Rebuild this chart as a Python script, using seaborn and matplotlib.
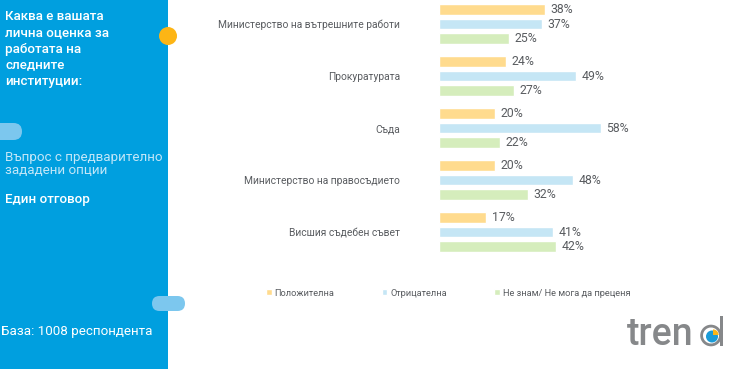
import matplotlib
matplotlib.use('Agg')
import matplotlib.pyplot as plt
import seaborn as sns
import pandas as pd
from matplotlib.patches import Rectangle, Circle, FancyBboxPatch, Wedge

# Data
institutions = ["Министерство на вътрешните работи", "Прокуратурата", "Съда",
                "Министерство на правосъдието", "Висшия съдебен съвет"]
answers = ["Положителна", "Отрицателна", "Не знам/ Не мога да преценя"]
positive = [38, 24, 20, 20, 17]
negative = [37, 49, 58, 48, 41]
dont_know = [25, 27, 22, 32, 42]

question_lines = ["Каква е вашата", "лична оценка за", "работата на", "следните", "институции:"]
note_lines = ["Въпрос с предварително", "зададени опции"]
answer_type = "Един отговор"
base_text = "База: 1008 респондента"

colors = ["#FFDB8E", "#C5E6F5", "#D5EDBC"]
panel_blue = "#009FDF"
text_gray = "#595c60"
logo_gray = "#86888A"

sns.set_theme(style="white")
plt.rcParams['font.family'] = ['Roboto', 'DejaVu Sans']

rows = []
for i, inst in enumerate(institutions):
    for ans, vals in zip(answers, [positive, negative, dont_know]):
        rows.append({"institution": inst, "answer": ans, "value": vals[i]})
df = pd.DataFrame(rows)

W, H = 740, 369
fig = plt.figure(figsize=(W / 100, H / 100), dpi=100)

# background / decoration layer in pixel coordinates
bg = fig.add_axes([0, 0, 1, 1], zorder=0)
bg.set_xlim(0, W)
bg.set_ylim(H, 0)
bg.axis('off')
bg.add_patch(Rectangle((0, 0), 168, H, color=panel_blue, lw=0))
bg.add_patch(Circle((168, 36), 9, color="#FDB515", lw=0))
bg.add_patch(FancyBboxPatch((-20, 123), 42, 17, boxstyle="round,pad=0,rounding_size=8.5",
                            color="#7CC7EE", lw=0))
bg.add_patch(FancyBboxPatch((152, 296), 33, 15, boxstyle="round,pad=0,rounding_size=7.5",
                            color="#7CC7EE", lw=0))

for k, line in enumerate(question_lines):
    bg.text(5, 17 + k * 16, line, color="white", fontsize=9.6, fontweight='medium',
            va='center', ha='left')
for k, line in enumerate(note_lines):
    bg.text(5, 157 + k * 14, line, color="#C4E7F8", fontsize=9.6, fontweight='normal',
            va='center', ha='left')
bg.text(5, 199, answer_type, color="white", fontsize=9.6, fontweight='medium',
        va='center', ha='left')
bg.text(1, 332, base_text, color="white", fontsize=9.6, va='center', ha='left')

# logo: "tren" as text, the "d" drawn as ring + stem with a small pie in its bowl
bg.text(627, 345, "tren", color=logo_gray, fontsize=27, fontweight='medium',
        va='baseline', ha='left')
bg.add_patch(Wedge((711, 335.5), 10.8, 0, 360, width=2.8, color=logo_gray, lw=0, zorder=4))
bg.add_patch(Rectangle((720.2, 316), 2.8, 29.5, color=logo_gray, lw=0, zorder=4))
bg.add_patch(Circle((712, 336.5), 6.0, color="#1B9BD7", lw=0, zorder=5))
bg.add_patch(Wedge((713, 335), 5.6, 270, 0, color="#FDB515", lw=0, zorder=6))

# bar chart
ax = fig.add_axes([439 / W, 1 - 258 / H, 279 / W, 260 / H], zorder=1)
ax.patch.set_alpha(0)
sns.barplot(data=df, y="institution", x="value", hue="answer", orient='h',
            palette=colors, width=0.84, gap=0.28, ax=ax, saturation=1)
for cont in ax.containers:
    ax.bar_label(cont, fmt='%d%%', padding=4, fontsize=8.8, color=text_gray)
ax.set_xlim(0, 100)
ax.set_ylim(4.5, -0.5)
ax.set_xlabel("")
ax.set_ylabel("")
ax.set_xticks([])
ax.tick_params(axis='y', length=0, pad=28, labelsize=7.4, labelcolor=text_gray)
sns.despine(ax=ax, left=True, bottom=True)

handles, labels = ax.get_legend_handles_labels()
ax.get_legend().remove()
fig.legend(handles, labels, loc='center left', bbox_to_anchor=(266 / W, 1 - 293 / H),
           ncol=3, frameon=False, fontsize=6.7, handlelength=0.6, handleheight=0.6,
           handletextpad=0.3, columnspacing=5.1, labelcolor=text_gray, borderaxespad=0,
           borderpad=0)

fig.savefig("out.png", dpi=100)
